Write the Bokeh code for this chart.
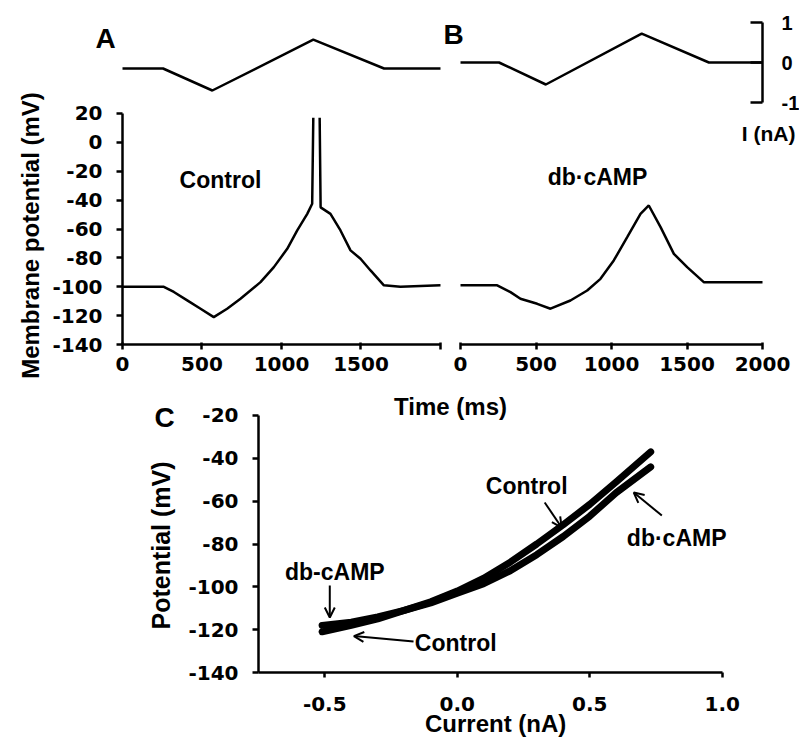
from math import pi
from bokeh.plotting import figure
from bokeh.models import Range1d, LinearAxis, FixedTicker, Label, Arrow, OpenHead
from bokeh.embed import file_html
from bokeh.resources import INLINE

FONT = "Liberation Sans"
TICK_FONT = "DejaVu Sans"
NAN = float("nan")

# ---- data -------------------------------------------------------------
# injected current command (same protocol in A and B), nA
cmd_time = [0, 255, 565, 1200, 1645, 2000]
cmd_current = [0, 0, -0.55, 0.72, 0, 0]

# membrane potential, control (A), mV  (spike clipped at the top of the panel)
ctrl_time = [0, 260, 323, 407, 491, 574, 658, 742, 868, 952, 1036, 1099, 1162, 1193,
             1200, NAN, 1240, 1246, 1308, 1371, 1434, 1497, 1560, 1644, 1748, 2000]
ctrl_mv = [-100, -100, -103.6, -109.4, -115.2, -121, -115.2, -108.3, -96.8, -86.4, -73.7,
           -61, -49.5, -42.5, 17, NAN, 17, -45, -49.5, -61, -74.8, -80.6, -88.7, -99,
           -100, -99]

# membrane potential, db-cAMP (B), mV
camp_time = [0, 243, 331, 397, 508, 596, 728, 839, 927, 1015, 1104, 1192, 1247, 1325,
             1413, 1501, 1611, 2000]
camp_mv = [-99, -99, -103.7, -108.3, -111.8, -115.2, -109.5, -102.6, -94.5, -81.8, -65.7,
           -49.5, -43.7, -58.7, -77.2, -86.4, -96.8, -96.8]

time_ticks = [0, 500, 1000, 1500, 2000]
mv_ticks = [-140, -120, -100, -80, -60, -40, -20, 0, 20]
cur_ticks = [-1, 0, 1]

# I-V relation (C)
iv_current = [-0.51, -0.4, -0.3, -0.2, -0.1, 0.0, 0.1, 0.2, 0.3, 0.4, 0.5, 0.6, 0.73]
iv_control = [-121, -118, -115, -111, -107, -102, -96, -88.5, -80, -71, -61.5, -51, -37]
iv_camp = [-118, -116.5, -114, -111, -107.5, -103, -98.5, -92.5, -85, -76.5, -67, -56, -44]
iv_x_ticks = [-0.5, 0.0, 0.5, 1.0]
iv_y_ticks = [-140, -120, -100, -80, -60, -40, -20]

# ---- one canvas, one set of ranges per panel ---------------------------
p = figure(width=799, height=743, output_backend="svg", toolbar_location=None,
           x_range=Range1d(0, 799), y_range=Range1d(0, 743),
           x_axis_location=None, y_axis_location=None,
           min_border=0, min_border_left=0, min_border_right=0,
           min_border_top=0, min_border_bottom=0)
p.grid.visible = False
p.outline_line_color = None
p.background_fill_color = "white"
p.border_fill_color = "white"

p.extra_x_ranges = {
    "tA": Range1d(-767.3, 4257.9),     # time axis of panel A
    "tB": Range1d(-3046.4, 2245.0),    # time axis of panel B
    "iC": Range1d(-1.7236, 1.2915),    # current axis of panel C
}
p.extra_y_ranges = {
    "mv": Range1d(-416.3, 98.25),      # membrane potential, A and B
    "curA": Range1d(-16.875, 1.7),     # injected current, A
    "curB": Range1d(-17.025, 1.55),    # injected current, B
    "vC": Range1d(-173.15, 173.77),    # potential axis of panel C
}


def axis(side, xr, yr, loc, bounds, ticks, labels, size="20px", font=TICK_FONT,
         tick_out=6, tick_in=0, standoff=10):
    ax = LinearAxis(x_range_name=xr, y_range_name=yr, fixed_location=loc, bounds=bounds)
    ax.ticker = FixedTicker(ticks=ticks)
    ax.major_label_overrides = labels
    ax.axis_line_width = 2.5
    ax.axis_line_color = "black"
    ax.major_tick_line_width = 2.5
    ax.major_tick_out = tick_out
    ax.major_tick_in = tick_in
    ax.minor_tick_line_color = None
    ax.major_label_text_font = font
    ax.major_label_text_font_style = "bold"
    ax.major_label_text_font_size = size
    ax.major_label_text_color = "black"
    ax.major_label_standoff = standoff
    p.add_layout(ax, side)
    return ax


def text(xr, yr, x, y, s, size="23px", angle=0, align="center"):
    p.add_layout(Label(x=x, y=y, text=s, angle=angle, text_font=FONT,
                       text_font_style="bold", text_font_size=size,
                       text_align=align, text_baseline="middle", text_color="black",
                       x_range_name=xr, y_range_name=yr))


def arrow(x0, y0, x1, y1):
    p.add_layout(Arrow(end=OpenHead(size=10, line_width=2, line_color="black"),
                       x_start=x0, y_start=y0, x_end=x1, y_end=y1,
                       line_width=2, line_color="black",
                       x_range_name="iC", y_range_name="vC"))


mv_labels = {v: str(v) for v in mv_ticks}

# ---- panel A ----------------------------------------------------------
axis("left", "tA", "mv", 0, (-140, 20), mv_ticks, mv_labels, tick_out=6, standoff=14)
axis("below", "tA", "mv", -140, (0, 2000), time_ticks,
     {0: "0", 500: "500", 1000: "1000", 1500: "1500", 2000: ""},
     tick_out=5, tick_in=2, standoff=7)
p.line(cmd_time, cmd_current, x_range_name="tA", y_range_name="curA",
       line_color="black", line_width=2.5)
p.line(ctrl_time, ctrl_mv, x_range_name="tA", y_range_name="mv",
       line_color="black", line_width=2.5)
text("tA", "mv", -107, 72, "A", size="28px")
text("tA", "mv", 616, -26, "Control")
text("tA", "mv", -579, -64.5, "Membrane potential (mV)", size="24px", angle=pi / 2)

# ---- panel B ----------------------------------------------------------
axis("below", "tB", "mv", -140, (0, 2000), time_ticks, {t: str(t) for t in time_ticks},
     tick_out=5, tick_in=2, standoff=7)
axis("right", "tB", "curB", 2000, (-1, 1), cur_ticks, {-1: "-1", 0: "0", 1: "1"},
     size="20px", font=FONT, tick_out=0, tick_in=12, standoff=19)
p.line(cmd_time, cmd_current, x_range_name="tB", y_range_name="curB",
       line_color="black", line_width=2.5)
p.line(camp_time, camp_mv, x_range_name="tB", y_range_name="mv",
       line_color="black", line_width=2.5)
text("tB", "mv", -46, 75, "B", size="28px")
text("tB", "mv", 907, -24, "db\u00b7cAMP")
text("tB", "mv", 2040, 6, "I (nA)", size="21px")
text("tB", "mv", -66, -182.9, "Time (ms)", size="24px")

# ---- panel C ----------------------------------------------------------
axis("left", "iC", "vC", -0.75, (-140, -20), iv_y_ticks, {v: str(v) for v in iv_y_ticks},
     tick_out=6, standoff=14)
axis("below", "iC", "vC", -140, (-0.75, 1.0), iv_x_ticks,
     {-0.5: "-0.5", 0.0: "0.0", 0.5: "0.5", 1.0: "1.0"}, tick_out=5, standoff=19)
p.line(iv_current, iv_control, x_range_name="iC", y_range_name="vC",
       line_color="black", line_width=7, line_join="round", line_cap="round")
p.line(iv_current, iv_camp, x_range_name="iC", y_range_name="vC",
       line_color="black", line_width=7, line_join="round", line_cap="round")
text("iC", "vC", -1.104, -20.9, "C", size="28px")
text("iC", "vC", -1.119, -80.7, "Potential (mV)", size="25px", angle=pi / 2)
text("iC", "vC", 0.145, -163.8, "Current (nA)", size="24px")
text("iC", "vC", 0.262, -52.7, "Control")
text("iC", "vC", 0.828, -77, "db\u00b7cAMP")
text("iC", "vC", -0.462, -93.3, "db-cAMP")
text("iC", "vC", -0.16, -126, "Control", align="left")
arrow(0.33, -60.6, 0.394, -72.3)
arrow(0.772, -66.7, 0.666, -56)
arrow(-0.481, -99.4, -0.481, -114.3)
arrow(-0.165, -125.5, -0.39, -123)

open("out.html", "w").write(file_html(p, INLINE))
